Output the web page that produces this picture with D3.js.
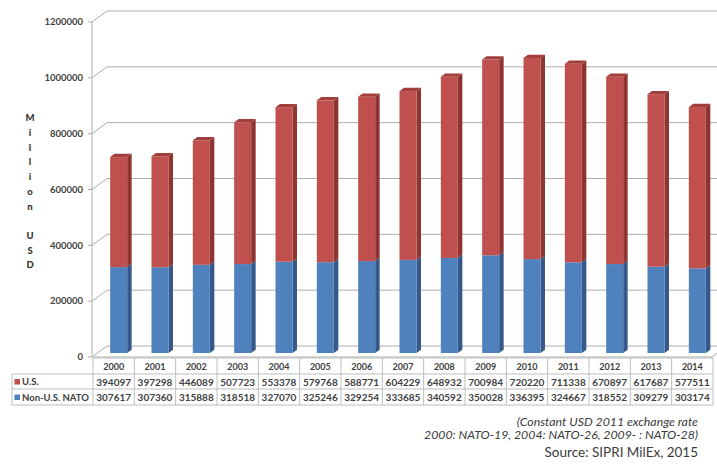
<!DOCTYPE html>
<html>
<head>
<meta charset="utf-8">
<script src="https://cdn.jsdelivr.net/npm/d3@7/dist/d3.min.js"></script>
<style>
  html, body { margin: 0; padding: 0; background: #fff; }
  svg { display: block; font-family: Lato, "Open Sans", sans-serif; }
</style>
</head>
<body>
<svg id="chart" width="717" height="464"></svg>
<script>
// Military expenditure, million USD (constant 2011 USD)
const years = ["2000","2001","2002","2003","2004","2005","2006","2007","2008","2009","2010","2011","2012","2013","2014"];
const usSpending = [394097,397298,446089,507723,553378,579768,588771,604229,648932,700984,720220,711338,670897,617687,577511];
const nonUsNato = [307617,307360,315888,318518,327070,325246,329254,333685,340592,350028,336395,324667,318552,309279,303174];
const yTicks = [0,200000,400000,600000,800000,1000000,1200000];
const seriesNames = ["U.S.", "Non-U.S. NATO"];
const axisTitle = "Million USD";
const noteLines = ["(Constant USD 2011 exchange rate", "2000: NATO-19, 2004: NATO-26, 2009- : NATO-28)"];
const sourceLine = "Source: SIPRI MilEx, 2015";

const colors = {
  us:    { front: "#C0504D", side: "#8E3431", top: "#A13E3B" },
  nato:  { front: "#4F81BD", side: "#35598A", top: "#3F6CA3" },
  grid: "#ADADAD",
  text: "#404040",
  border: "#BDBDBD"
};

const svg = d3.select("#chart");

// plot frame: front axis plane plus a receding back wall
const frontLeft = 92, frontRight = 712, floorY = 357, topY = 22;
const depthX = 15, depthY = -11;        // back wall offset
const barShiftX = 5, barShiftY = -4;    // bar front plane offset
const barDepthX = 4.5, barDepthY = -3.3;
const barWidth = 17;

const y = d3.scaleLinear().domain([0, 1200000]).range([floorY, topY]);
const x = d3.scaleBand().domain(years).range([93, 713]).padding(0);

const gGrid = svg.append("g");
// back wall gridlines + left wall diagonals
yTicks.forEach(t => {
  const yy = y(t);
  gGrid.append("line")
    .attr("x1", frontLeft).attr("y1", yy)
    .attr("x2", frontLeft + depthX).attr("y2", yy + depthY)
    .attr("stroke", colors.grid).attr("stroke-width", 1);
  gGrid.append("line")
    .attr("x1", frontLeft + depthX).attr("y1", yy + depthY)
    .attr("x2", 730).attr("y2", yy + depthY)
    .attr("stroke", colors.grid).attr("stroke-width", 1);
  // tick mark
  gGrid.append("line")
    .attr("x1", frontLeft - 4).attr("y1", yy)
    .attr("x2", frontLeft).attr("y2", yy)
    .attr("stroke", colors.grid);
});
// left vertical axis
gGrid.append("line")
  .attr("x1", frontLeft).attr("y1", topY)
  .attr("x2", frontLeft).attr("y2", floorY)
  .attr("stroke", colors.grid);
// floor front edge and right slant
gGrid.append("line")
  .attr("x1", frontLeft).attr("y1", floorY)
  .attr("x2", frontRight).attr("y2", floorY)
  .attr("stroke", colors.grid);
gGrid.append("line")
  .attr("x1", frontRight).attr("y1", floorY)
  .attr("x2", frontRight + depthX).attr("y2", floorY + depthY)
  .attr("stroke", colors.grid);

// y tick labels
svg.append("g").selectAll("text").data(yTicks).join("text")
  .attr("x", 83).attr("y", d => y(d)).attr("dy", "0.35em")
  .attr("text-anchor", "end")
  .attr("font-size", 9.5).attr("font-weight", 700)
  .attr("fill", colors.text)
  .text(d => d);

// stacked 3D columns
const stackData = years.map((yr, i) => ({ year: yr, nato: nonUsNato[i], us: usSpending[i] }));
const stack = d3.stack().keys(["nato", "us"])(stackData);

const gBars = svg.append("g");
stackData.forEach((d, i) => {
  const x0 = x(d.year) + x.bandwidth() / 2 + barShiftX - barWidth / 2;
  const x1 = x0 + barWidth;
  stack.forEach((layer, li) => {
    const seg = layer[i];
    const yb = y(seg[0]) + barShiftY;
    const yt = y(seg[1]) + barShiftY;
    const c = colors[layer.key];
    const g = gBars.append("g");
    // side face
    g.append("path")
      .attr("d", `M${x1},${yt}L${x1 + barDepthX},${yt + barDepthY}L${x1 + barDepthX},${yb + barDepthY}L${x1},${yb}Z`)
      .attr("fill", c.side);
    // front face
    g.append("rect")
      .attr("x", x0).attr("y", yt)
      .attr("width", barWidth).attr("height", yb - yt)
      .attr("fill", c.front);
    // top cap only on the highest segment
    if (li === stack.length - 1) {
      g.append("path")
        .attr("d", `M${x0},${yt}L${x1},${yt}L${x1 + barDepthX},${yt + barDepthY}L${x0 + barDepthX},${yt + barDepthY}Z`)
        .attr("fill", c.top);
    }
  });
});

// axis title, stacked letters
const titleChars = axisTitle.split("");
svg.append("g").selectAll("text").data(titleChars).join("text")
  .attr("x", 30).attr("y", (d, i) => 118 + i * 14.7).attr("dy", "0.35em")
  .attr("text-anchor", "middle")
  .attr("font-size", 9.5).attr("font-weight", 900)
  .attr("fill", "#333")
  .text(d => d);

// data table under the plot
const rowTops = [358, 374, 389, 405];
const gTable = svg.append("g");
const tableLeft = 12, tableRight = 713;
// horizontal rules
gTable.append("line").attr("x1", 93).attr("x2", tableRight).attr("y1", rowTops[0]).attr("y2", rowTops[0]).attr("stroke", colors.border);
[1, 2, 3].forEach(r => {
  gTable.append("line").attr("x1", tableLeft).attr("x2", tableRight)
    .attr("y1", rowTops[r]).attr("y2", rowTops[r]).attr("stroke", colors.border);
});
// vertical rules
const colEdges = years.map(yr => x(yr)).concat([x.range()[1]]);
colEdges.forEach(cx => {
  gTable.append("line").attr("x1", cx).attr("x2", cx)
    .attr("y1", rowTops[0]).attr("y2", rowTops[3]).attr("stroke", colors.border);
});
gTable.append("line").attr("x1", tableLeft).attr("x2", tableLeft)
  .attr("y1", rowTops[1]).attr("y2", rowTops[3]).attr("stroke", colors.border);

// header years
gTable.selectAll("text.yr").data(years).join("text").attr("class", "yr")
  .attr("x", d => x(d) + x.bandwidth() / 2).attr("y", (rowTops[0] + rowTops[1]) / 2 + 0.5)
  .attr("dy", "0.35em").attr("text-anchor", "middle")
  .attr("font-size", 9).attr("font-weight", 700).attr("fill", colors.text)
  .text(d => d);

const rows = [
  { name: seriesNames[0], values: usSpending, color: colors.us.front },
  { name: seriesNames[1], values: nonUsNato, color: colors.nato.front }
];
rows.forEach((row, r) => {
  const cy = (rowTops[r + 1] + rowTops[r + 2]) / 2 + 0.5;
  gTable.append("rect").attr("x", 14.5).attr("y", cy - 3).attr("width", 5.5).attr("height", 5.5).attr("fill", row.color);
  gTable.append("text").attr("x", 22).attr("y", cy).attr("dy", "0.35em")
    .attr("font-size", 9.5).attr("font-weight", 700).attr("fill", colors.text)
    .text(row.name);
  gTable.selectAll(null).data(row.values).join("text")
    .attr("x", (d, i) => x(years[i]) + x.bandwidth() / 2).attr("y", cy)
    .attr("dy", "0.35em").attr("text-anchor", "middle")
    .attr("font-size", 10).attr("font-weight", 700).attr("fill", colors.text)
    .text(d => d);
});

// notes and source
const gNote = svg.append("g").attr("fill", "#3a3a3a");
noteLines.forEach((t, i) => {
  gNote.append("text").attr("x", 698).attr("y", 425.5 + i * 13.5)
    .attr("text-anchor", "end").attr("font-style", "italic").attr("font-size", 12.3)
    .text(t);
});
gNote.append("text").attr("x", 698).attr("y", 457)
  .attr("text-anchor", "end").attr("font-size", 13.5)
  .text(sourceLine);
</script>
</body>
</html>
